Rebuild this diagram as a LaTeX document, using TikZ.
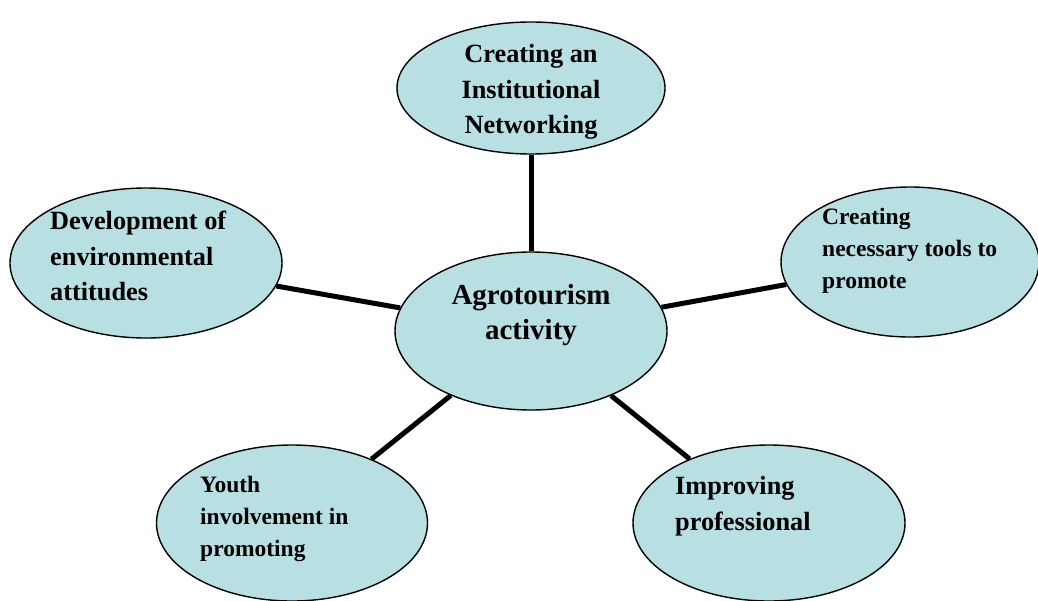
\documentclass[tikz,border=0pt]{standalone}
\usepackage{fontspec}
\setmainfont{Liberation Serif}
\usetikzlibrary{shapes,positioning}
\definecolor{bubblefill}{RGB}{184,223,226}

\begin{document}
\begin{tikzpicture}[x=1pt,y=-1pt,
  oval/.style={ellipse,draw,fill=bubblefill,line width=1.4pt,inner sep=0pt},
  link/.style={line width=5pt},
  txt/.style={font=\bfseries\fontsize{26.3}{35.5}\selectfont,align=left,inner sep=0pt},
  small/.style={font=\bfseries\fontsize{23.5}{32}\selectfont}]
\useasboundingbox (0,0) rectangle (1038,600);
\clip (0,0) rectangle (1038,600);
\node[oval,minimum width=268pt,minimum height=132pt] (inst) at (531,88) {};
\node[oval,minimum width=272pt,minimum height=150pt] (envi) at (146,263) {};
\node[oval,minimum width=258pt,minimum height=150pt] (tool) at (910,262) {};
\node[oval,minimum width=272pt,minimum height=158pt] (agro) at (531,331) {};
\node[oval,minimum width=271pt,minimum height=156pt] (youth) at (292,523) {};
\node[oval,minimum width=272pt,minimum height=156pt] (prof) at (769,523) {};
\draw[link] (agro)--(inst);
\draw[link] (agro)--(envi);
\draw[link] (agro)--(tool);
\draw[link] (agro)--(youth);
\draw[link] (agro)--(prof);
\node[txt,align=center] (insttext) at (531,92) {Creating an\\Institutional\\Networking};
\node[txt,anchor=west] (envitext) at (50,256) {Development of\\environmental\\attitudes};
\node[txt,small,anchor=west] (tooltext) at (822,251) {Creating\\necessary tools to\\promote};
\node[txt,align=center,font=\bfseries\fontsize{29}{35}\selectfont] (agrotext) at (531,315) {Agrotourism\\activity};
\node[txt,small,anchor=west] (youthtext) at (200,519) {Youth\\involvement in\\promoting};
\node[txt,anchor=west] (proftext) at (675,506) {Improving\\professional};
\end{tikzpicture}
\end{document}
